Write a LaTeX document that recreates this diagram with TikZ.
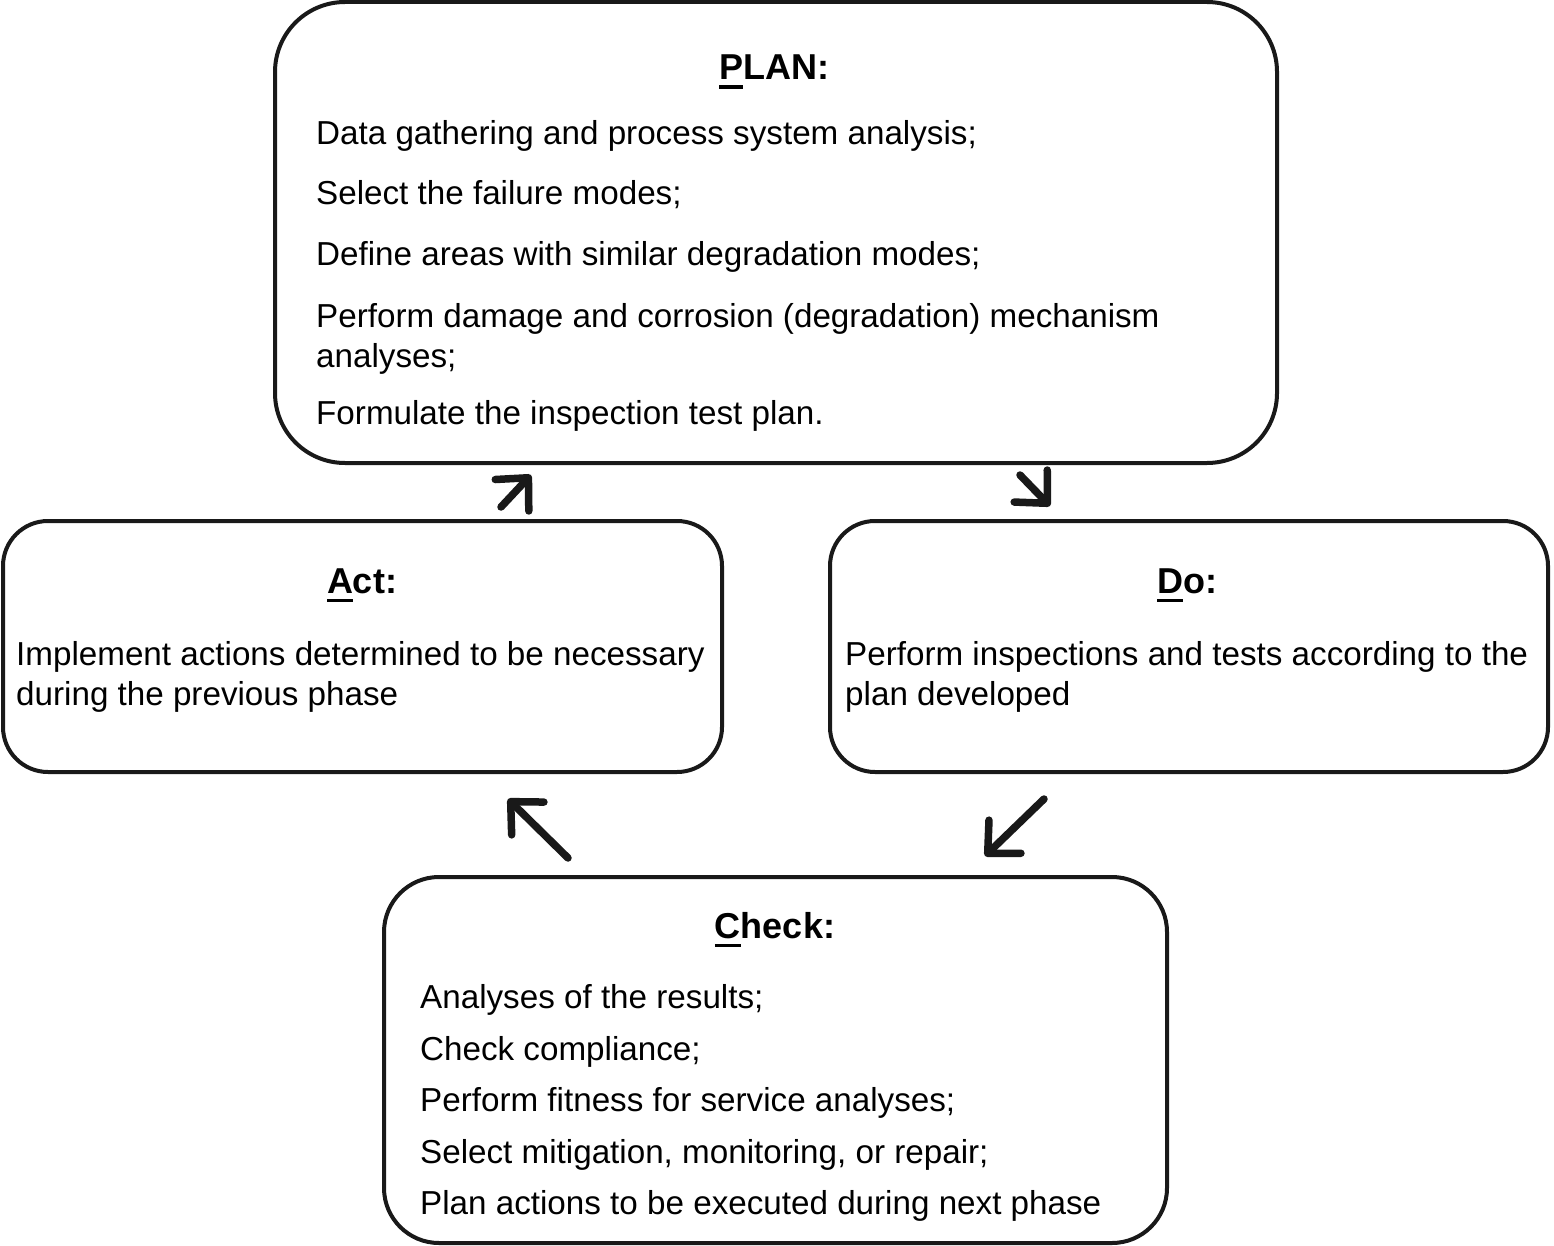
\documentclass[tikz,border=0pt]{standalone}
\usepackage{fontspec}
\setmainfont{Liberation Sans}
\usetikzlibrary{arrows.meta}
\newcommand\firstul[1]{\setbox0\hbox{#1}\rlap{\rule[-9pt]{\wd0}{3.5pt}}#1}
\begin{document}
\begin{tikzpicture}[x=1pt,y=-1pt,
  box/.style={draw=black!90, line width=4pt, rounded corners=#1, inner sep=0pt},
  box/.default=60pt,
  title/.style={anchor=base, inner sep=0pt, font=\fontsize{36}{40}\selectfont\bfseries},
  item/.style={anchor=base west, inner sep=0pt, align=left, font=\fontsize{33.2}{40}\selectfont},
  cyc/.style={line width=7.5pt, black!90, -{Straight Barb[length=24pt,width=46pt,round]}, line cap=round}]
\useasboundingbox (0,0) rectangle (1554,1246);
% boxes
\node[box=70pt, minimum width=1002pt, minimum height=461pt] (plan) at (776,232.5) {};
\node[box=45pt, minimum width=719pt, minimum height=251pt] (act) at (362.5,646.5) {};
\node[box=45pt, minimum width=718pt, minimum height=251pt] (do) at (1189,646.5) {};
\node[box=55pt, minimum width=783pt, minimum height=366pt] (check) at (775.5,1060) {};
% plan text
\node[title] (plant) at (774,80) {\firstul{P}LAN:};
\node[item] (p1) at (316,145) {Data gathering and process system analysis;};
\node[item] (p2) at (316,205) {Select the failure modes;};
\node[item] (p3) at (316,266) {Define areas with similar degradation modes;};
\node[item] (p4) at (316,367) {Perform damage and corrosion (degradation) mechanism\\analyses;};
\node[item] (p5) at (316,424) {Formulate the inspection test plan.};
% act text
\node[title] (actt) at (362,593) {\firstul{A}ct:};
\node[item] (a1) at (16,705) {Implement actions determined to be necessary\\during the previous phase};
% do text
\node[title] (dot) at (1187,593) {\firstul{D}o:};
\node[item] (d1) at (845,705) {Perform inspections and tests according to the\\plan developed};
% check text
\node[title] (checkt) at (775,938) {\firstul{C}heck:};
\node[item] (c1) at (420,1008) {Analyses of the results;};
\node[item] (c2) at (420,1060) {Check compliance;};
\node[item] (c3) at (420,1111) {Perform fitness for service analyses;};
\node[item] (c4) at (420,1163) {Select mitigation, monitoring, or repair;};
\node[item] (c5) at (420,1214) {Plan actions to be executed during next phase};
% arrows
\coordinate (a1s) at (501,507);
\coordinate (a1e) at (531,475);
\coordinate (a2s) at (1020,475);
\coordinate (a2e) at (1050,506);
\coordinate (a3s) at (568,858);
\coordinate (a3e) at (508,799);
\coordinate (a4s) at (1044,799);
\coordinate (a4e) at (985,856);
\draw[cyc] (a1s) -- (a1e);
\draw[cyc] (a2s) -- (a2e);
\draw[cyc] (a3s) -- (a3e);
\draw[cyc] (a4s) -- (a4e);
\end{tikzpicture}
\end{document}
